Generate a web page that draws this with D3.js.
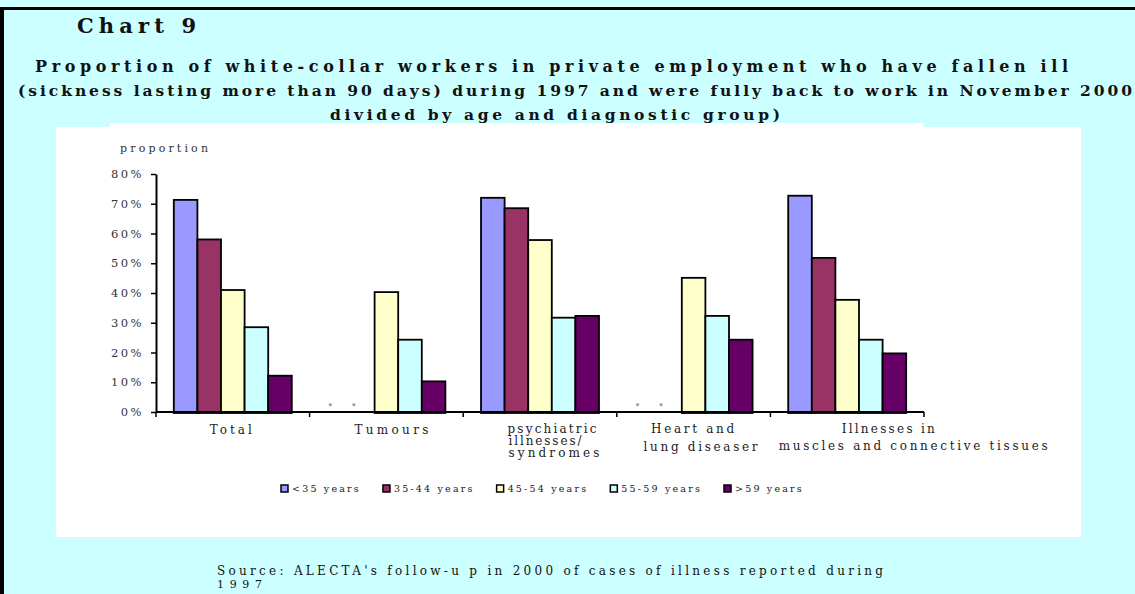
<!DOCTYPE html>
<html>
<head>
<meta charset="utf-8">
<script src="https://cdn.jsdelivr.net/npm/d3@7"></script>
<style>
  body { margin: 0; background: #ccffff; }
  text { font-family: "DejaVu Serif", serif; }
</style>
</head>
<body>
<div id="chart"></div>
<script>
var categories = ["Total", "Tumours", "psychiatric illnesses/ syndromes", "Heart and lung diseaser", "Illnesses in muscles and connective tissues"];
var categoryLines = [["Total"], ["Tumours"], ["psychiatric", "illnesses/", "syndromes"], ["Heart and", "lung diseaser"], ["Illnesses in", "muscles  and connective tissues"]];
var seriesNames = ["<35 years", "35-44 years", "45-54 years", "55-59 years", ">59 years"];

// proportions per series, one per category (null = not shown, marked *)
var under35 = [0.713, null, 0.720, null, 0.727];
var age35to44 = [0.580, null, 0.685, null, 0.518];
var age45to54 = [0.410, 0.403, 0.578, 0.451, 0.377];
var age55to59 = [0.285, 0.243, 0.317, 0.323, 0.243];
var over59 = [0.122, 0.103, 0.323, 0.243, 0.197];

var yTicks = [0, 0.1, 0.2, 0.3, 0.4, 0.5, 0.6, 0.7, 0.8];
var colors = ["#9999ff", "#993366", "#ffffcc", "#ccffff", "#660066"];

var seriesValues = [under35, age35to44, age45to54, age55to59, over59];

var svgWidth = 1135;
var svgHeight = 594;

var svg = d3.select("#chart")
	.append("svg")
	.attr("width", svgWidth)
	.attr("height", svgHeight);

// background and frame
svg.append("rect").attr("width", svgWidth).attr("height", svgHeight).attr("fill", "#ccffff");
svg.append("rect").attr("x", 0).attr("y", 7).attr("width", svgWidth).attr("height", 3).attr("fill", "#000");
svg.append("rect").attr("x", 0).attr("y", 7).attr("width", 4).attr("height", svgHeight - 7).attr("fill", "#000");

// white chart panel
svg.append("rect").attr("x", 56).attr("y", 127).attr("width", 1025).attr("height", 410).attr("fill", "#fff");
svg.append("rect").attr("x", 110).attr("y", 123).attr("width", 813).attr("height", 5).attr("fill", "#fff");

// titles
function fitText(x, y, str, len, size, weight, anchor) {
	return svg.append("text")
		.attr("x", x)
		.attr("y", y)
		.attr("font-size", size)
		.attr("font-weight", weight || "normal")
		.attr("text-anchor", anchor || "start")
		.attr("textLength", len)
		.attr("lengthAdjust", "spacing")
		.attr("fill", "#111")
		.text(str);
}

fitText(77, 33, "Chart 9", 119, 21, "bold");
fitText(35, 72, "Proportion of white-collar workers in private employment who have fallen ill", 1033, 16, "bold");
fitText(18, 96, "(sickness lasting more than 90 days) during 1997 and were fully back to work in November 2000", 1114, 15.5, "bold");
fitText(330, 120, "divided by age and diagnostic group)", 450, 15.5, "bold");

// scales
var x0 = d3.scaleBand()
	.domain(categories)
	.range([156, 924])
	.paddingInner(0.232)
	.paddingOuter(0.116);

var x1 = d3.scaleBand()
	.domain(seriesNames)
	.range([0, x0.bandwidth()]);

var y = d3.scaleLinear()
	.domain([0, 0.8])
	.range([412, 174]);

// y axis
var leftAxis = d3.axisLeft(y)
	.tickValues(yTicks)
	.tickFormat(d3.format(".0%"))
	.tickSize(5)
	.tickSizeOuter(0);

var yAxis = svg.append("g")
	.attr("transform", "translate(156,0)")
	.call(leftAxis);
yAxis.select(".domain").attr("stroke-width", 2);
yAxis.selectAll(".tick line").attr("stroke-width", 1.5);
yAxis.selectAll(".tick text")
	.attr("x", -12)
	.attr("font-size", 11.5)
	.attr("letter-spacing", 2.5)
	.attr("fill", "#333")
	.style("font-family", "DejaVu Serif");

svg.append("text")
	.attr("x", 120)
	.attr("y", 152)
	.attr("font-size", 11)
	.attr("textLength", 88)
	.attr("lengthAdjust", "spacing")
	.attr("fill", "#333")
	.text("proportion");

// bars
var groups = svg.selectAll(".cat")
	.data(categories)
	.enter()
	.append("g")
	.attr("class", "cat")
	.attr("transform", d => `translate(${x0(d)},0)`);

groups.each(function(cat, ci) {
	var g = d3.select(this);
	seriesNames.forEach(function(s, si) {
		var v = seriesValues[si][ci];
		if (v === null) {
			g.append("text")
				.attr("x", x1(s) + x1.bandwidth() / 2 - 9)
				.attr("y", 409)
				.attr("font-size", 8)
				.attr("text-anchor", "middle")
				.attr("fill", "#555")
				.text("*");
			return;
		}
		g.append("rect")
			.attr("x", x1(s))
			.attr("y", y(v))
			.attr("width", x1.bandwidth())
			.attr("height", y(0) - y(v) + 1)
			.attr("fill", colors[si])
			.attr("stroke", "#000")
			.attr("stroke-width", 1.8);
	});
});

// x axis with ticks between categories
var step = x0.step();
var xAxisG = svg.append("g");
xAxisG.append("line")
	.attr("x1", 156).attr("x2", 924)
	.attr("y1", y(0)).attr("y2", y(0))
	.attr("stroke", "#000").attr("stroke-width", 2);
var bounds = categories.map(c => x0(c) - (step - x0.bandwidth()) / 2);
bounds.push(x0(categories[categories.length - 1]) + x0.bandwidth() + (step - x0.bandwidth()) / 2);
xAxisG.selectAll(".xt")
	.data(bounds)
	.enter()
	.append("line")
	.attr("x1", d => d).attr("x2", d => d)
	.attr("y1", y(0)).attr("y2", y(0) + 5)
	.attr("stroke", "#000").attr("stroke-width", 1.5);

// category labels (layout offsets from band centre)
var labelLayout = [
	[{dx: -2, y: 434, w: 42}],
	[{dx: 5, y: 434, w: 74}],
	[{dx: 12, y: 433, w: 89}, {dx: 5, y: 445, w: 73}, {dx: 14, y: 457, w: 91}],
	[{dx: -1, y: 433, w: 83}, {dx: 7, y: 451, w: 114}],
	[{dx: 41, y: 433, w: 93}, {dx: 66, y: 450, w: 269}]
];

categories.forEach(function(cat, ci) {
	var cx = x0(cat) + x0.bandwidth() / 2;
	categoryLines[ci].forEach(function(line, li) {
		var p = labelLayout[ci][li];
		svg.append("text")
			.attr("x", cx + p.dx)
			.attr("y", p.y)
			.attr("text-anchor", "middle")
			.attr("font-size", 12)
			.attr("textLength", p.w)
			.attr("lengthAdjust", "spacing")
			.attr("fill", "#222")
			.text(line);
	});
});

// legend
var legend = svg.append("g");
var lx = 281;
seriesNames.forEach(function(s, si) {
	legend.append("rect")
		.attr("x", lx)
		.attr("y", 485)
		.attr("width", 7)
		.attr("height", 7)
		.attr("fill", colors[si])
		.attr("stroke", "#000")
		.attr("stroke-width", 1.5);
	var t = legend.append("text")
		.attr("x", lx + 11)
		.attr("y", 492)
		.attr("font-size", 9.5)
		.attr("letter-spacing", 2.2)
		.attr("fill", "#222")
		.text(s);
	lx = lx + 11 + t.node().getComputedTextLength() + 22;
});

// source
fitText(217, 575, "Source: ALECTA's follow-u p in 2000 of cases of illness reported  during", 666, 12, "normal");
fitText(217, 588, "1997", 45, 11, "normal");
</script>
</body>
</html>
